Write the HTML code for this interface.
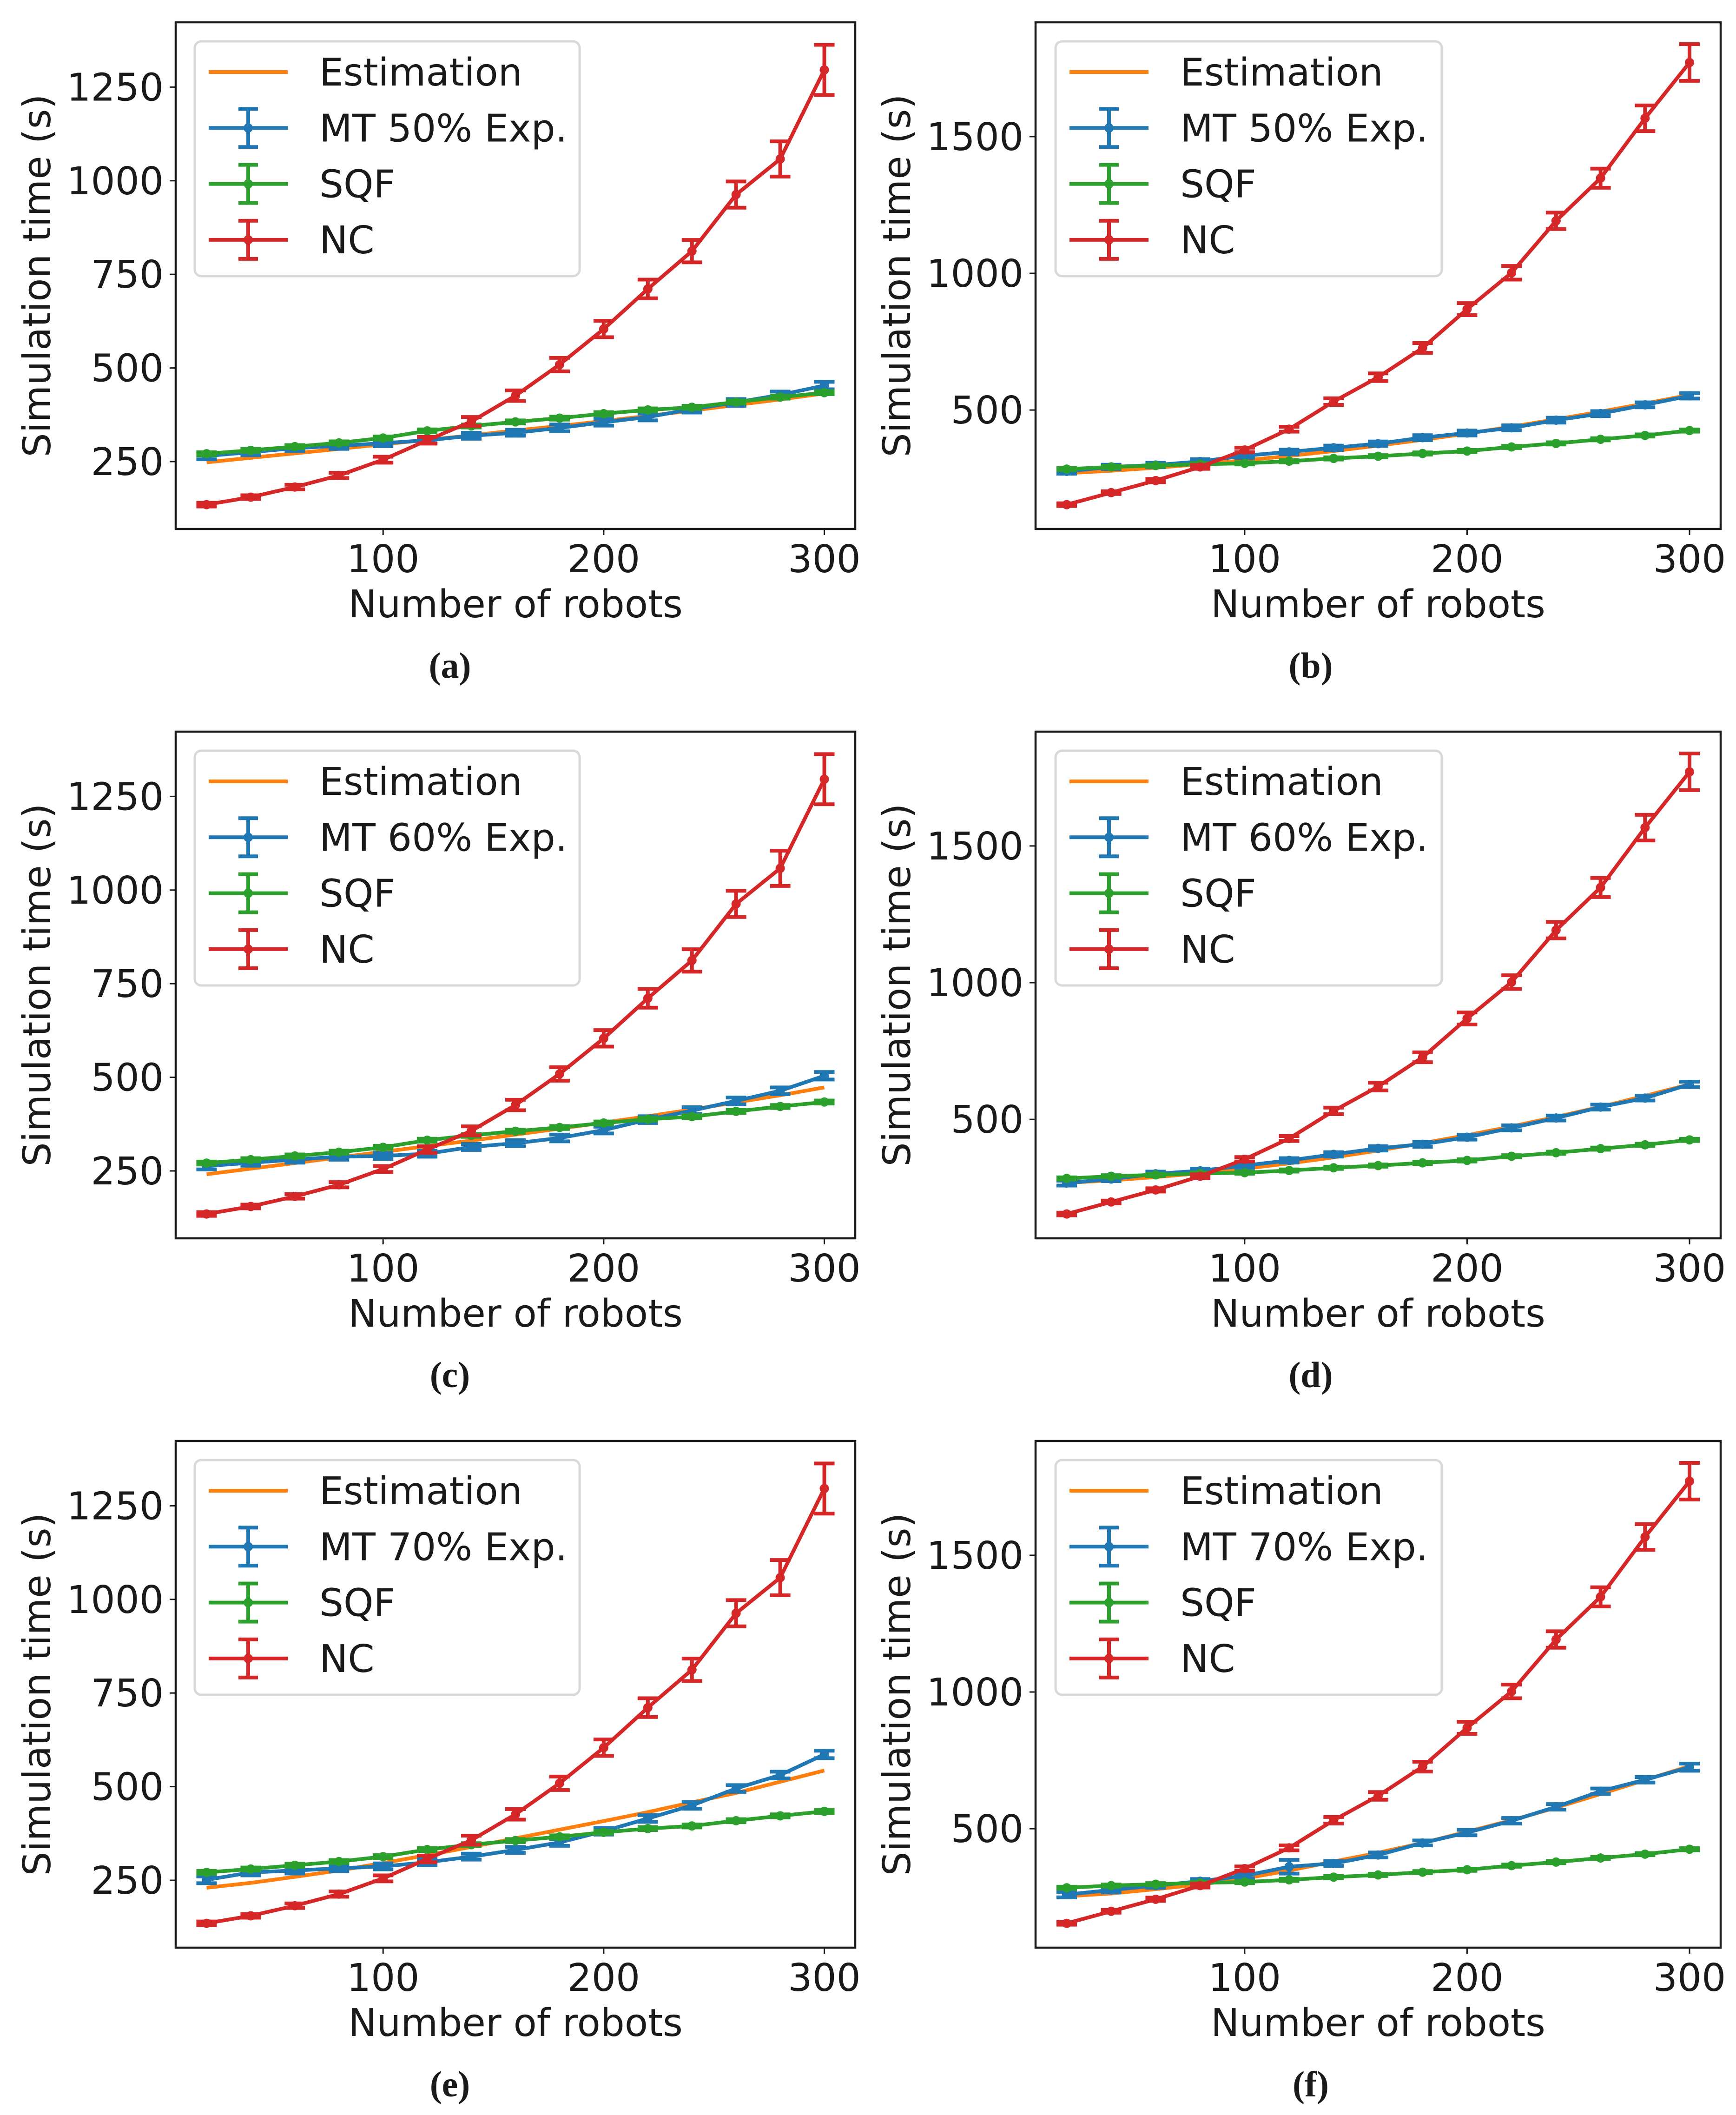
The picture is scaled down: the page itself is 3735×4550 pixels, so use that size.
<!DOCTYPE html>
<html><head><meta charset="utf-8"><style>
html,body{margin:0;padding:0;background:#fff;}
svg{display:block;}
text{font-family:"DejaVu Sans","Liberation Sans",sans-serif;fill:#1a1a1a;}
.cap{font-family:"Liberation Serif",serif;font-weight:bold;}
</style></head><body>
<svg id="fig" width="3735" height="4550" viewBox="0 0 3735 4550" xmlns="http://www.w3.org/2000/svg"></svg>
<script>
const xs = [20,40,60,80,100,120,140,160,180,200,220,240,260,280,300];
const xTicks = [100,200,300];
const yTicksA = [250,500,750,1000,1250];
const yTicksB = [500,1000,1500];
const ncA = [135,155,182,213,255,307,357,426,509,604,711,812,963,1058,1296];
const ncB = [154,198,242,292,354,430,531,620,727,869,1002,1192,1348,1567,1771];
const ncErr = [5,5,6,7,8,9,12,14,18,22,25,30,35,47,67];
const sqfA = [271,280,290,300,313,332,345,356,366,378,388,395,409,422,434];
const sqfB = [284,292,297,302,305,313,323,331,341,350,365,378,393,407,425];
const sqfErr = [4,4,4,4,4,4,4,4,4,4,4,4,4,4,4];
const mtA = [265,275,286,292,299,307,319,327,340,355,369,390,408,428,453];
const mtB = [276,292,299,312,333,347,362,377,399,416,435,463,487,519,552];
const mtC = [263,272,280,288,290,296,314,324,338,359,387,411,437,464,504];
const mtD = [267,282,301,312,331,350,372,394,409,435,469,505,545,578,628];
const mtE = [251,271,276,282,287,298,313,331,351,381,415,450,495,531,586];
const mtF = [259,276,292,308,328,361,373,404,448,486,529,580,637,679,725];
const mtErrA = [9,8,8,8,8,8,8,8,9,9,9,9,9,9,10];
const mtErrF = [10,9,8,8,9,25,9,9,9,10,10,10,10,10,13];
const estA = [248,260,272,284,296,308,320,333,345,358,372,386,401,416,432];
const estB = [269,278,289,302,316,332,350,370,391,414,439,466,494,524,555];
const estC = [241,256,271,286,301,316,331,347,363,379,396,414,433,452,473];
const estD = [268,277,289,303,320,339,361,386,413,442,474,509,546,586,628];
const estE = [230,243,259,276,296,317,339,362,385,408,432,458,483,513,543];
const estF = [253,263,279,296,318,347,380,412,448,489,531,577,627,678,729];
const pctLabels = ["50%","50%","60%","60%","70%","70%"];
const capLabels = ["a","b","c","d","e","f"];

const C = {est:"#ff7f0e", mt:"#1f77b4", sqf:"#2ca02c", nc:"#d62728"};
const NS = "http://www.w3.org/2000/svg";
const svg = document.getElementById('fig');
function el(tag, attrs, parent){const e=document.createElementNS(NS,tag);for(const k in attrs)e.setAttribute(k,attrs[k]);(parent||svg).appendChild(e);return e;}

const cols = [
 {L:378,R:1840,yMin:70,yMax:1423,ticks:yTicksA,ylabX:108,legL:419,legR:1247,capX:968},
 {L:2228,R:3702,yMin:65,yMax:1918,ticks:yTicksB,ylabX:1958,legL:2271,legR:3102,capX:2820}
];
const panels = [
 {mt:mtA,est:estA,nc:ncA,sqf:sqfA,mtErr:mtErrA},
 {mt:mtB,est:estB,nc:ncB,sqf:sqfB,mtErr:mtErrA},
 {mt:mtC,est:estC,nc:ncA,sqf:sqfA,mtErr:mtErrA},
 {mt:mtD,est:estD,nc:ncB,sqf:sqfB,mtErr:mtErrA},
 {mt:mtE,est:estE,nc:ncA,sqf:sqfA,mtErr:mtErrA},
 {mt:mtF,est:estF,nc:ncB,sqf:sqfB,mtErr:mtErrF}
];
const LW=8, CAP=22, MR=10, FS=82;

panels.forEach((p,i)=>{
  const col = cols[i%2], row = Math.floor(i/2);
  const T = 48 + row*1526, B = 1138 + row*1526;
  const xD=[6,314];
  const X = v => col.L + (v-xD[0])/(xD[1]-xD[0])*(col.R-col.L);
  const Y = v => B - (v-col.yMin)/(col.yMax-col.yMin)*(B-T);
  const g = el('g',{});
  
  

  xTicks.forEach(t=>{
    const tk = el('line',{x1:X(t),x2:X(t),y1:B,y2:B+13,stroke:'#1a1a1a','stroke-width':3},g);
    
    
    const tl = el('text',{x:X(t),y:B+93,'text-anchor':'middle','font-size':FS},g);
    tl.textContent = t;
    
    
  });
  col.ticks.forEach(t=>{
    const tk = el('line',{x1:col.L-13,x2:col.L,y1:Y(t),y2:Y(t),stroke:'#1a1a1a','stroke-width':3},g);
    
    
    const tl = el('text',{x:col.L-26,y:Y(t)+29,'text-anchor':'end','font-size':FS},g);
    tl.textContent = t;
    
    
  });
  const xl = el('text',{x:(col.L+col.R)/2,y:B+190,'text-anchor':'middle','font-size':FS},g);
  xl.textContent='Number of robots';
  
  
  const yl = el('text',{x:0,y:0,'text-anchor':'middle','font-size':FS,transform:`translate(${col.ylabX},${(T+B)/2}) rotate(-90)`},g);
  yl.textContent='Simulation time (s)';
  
  
  const cp = el('text',{x:col.capX,y:B+320,'text-anchor':'middle','font-size':78,class:'cap'},g);
  cp.textContent='('+capLabels[i]+')';
  
  

  function line(vals,color,name){
    const d = vals.map((v,k)=>(k?'L':'M')+X(xs[k]).toFixed(1)+' '+Y(v).toFixed(1)).join(' ');
    const pth = el('path',{d:d,fill:'none',stroke:color,'stroke-width':LW,'stroke-linejoin':'round'},g);
    
    
  }
  function errs(vals,err,color,name){
    vals.forEach((v,k)=>{
      const x=X(xs[k]), y1=Y(v-err[k]), y2=Y(v+err[k]);
      const eb = el('path',{d:`M${x} ${y1} L${x} ${y2} M${x-CAP} ${y1} L${x+CAP} ${y1} M${x-CAP} ${y2} L${x+CAP} ${y2}`,stroke:color,'stroke-width':LW,fill:'none'},g);
      
      
      const m = el('circle',{cx:x,cy:Y(v),r:MR,fill:color},g);
      
      
    });
  }
  line(p.est,C.est,'estimation');
  line(p.mt,C.mt,'mt'); errs(p.mt,p.mtErr,C.mt,'mt');
  line(p.sqf,C.sqf,'sqf'); errs(p.sqf,sqfErr,C.sqf,'sqf');
  line(p.nc,C.nc,'nc'); errs(p.nc,ncErr,C.nc,'nc');

  const fr = el('rect',{x:col.L,y:T,width:col.R-col.L,height:B-T,fill:'none',stroke:'#1a1a1a','stroke-width':4.5},g);
  
  

  const lg = el('g',{},g);
  
  
  const lb = el('rect',{x:col.legL,y:T+41,width:col.legR-col.legL,height:505,rx:14,fill:'#fff','fill-opacity':0.85,stroke:'#d9d9d9','stroke-width':5},lg);
  
  
  const entries=[['Estimation',C.est,false],['MT '+pctLabels[i]+' Exp.',C.mt,true],['SQF',C.sqf,true],['NC',C.nc,true]];
  entries.forEach((e,k)=>{
    const cy = T+107+k*120.3, hx1=col.legL+30, hx2=col.legL+200, hc=col.legL+115;
    const h = el('line',{x1:hx1,x2:hx2,y1:cy,y2:cy,stroke:e[1],'stroke-width':LW},lg);
    
    
    if(e[2]){
      el('path',{d:`M${hc} ${cy-41} L${hc} ${cy+41} M${hc-21} ${cy-41} L${hc+21} ${cy-41} M${hc-21} ${cy+41} L${hc+21} ${cy+41}`,stroke:e[1],'stroke-width':LW,fill:'none'},lg);
      el('circle',{cx:hc,cy:cy,r:MR,fill:e[1]},lg);
    }
    const t = el('text',{x:col.legL+268,y:cy+29,'font-size':FS},lg);
    t.textContent=e[0];
    
    
  });
});
</script>
</body></html>
